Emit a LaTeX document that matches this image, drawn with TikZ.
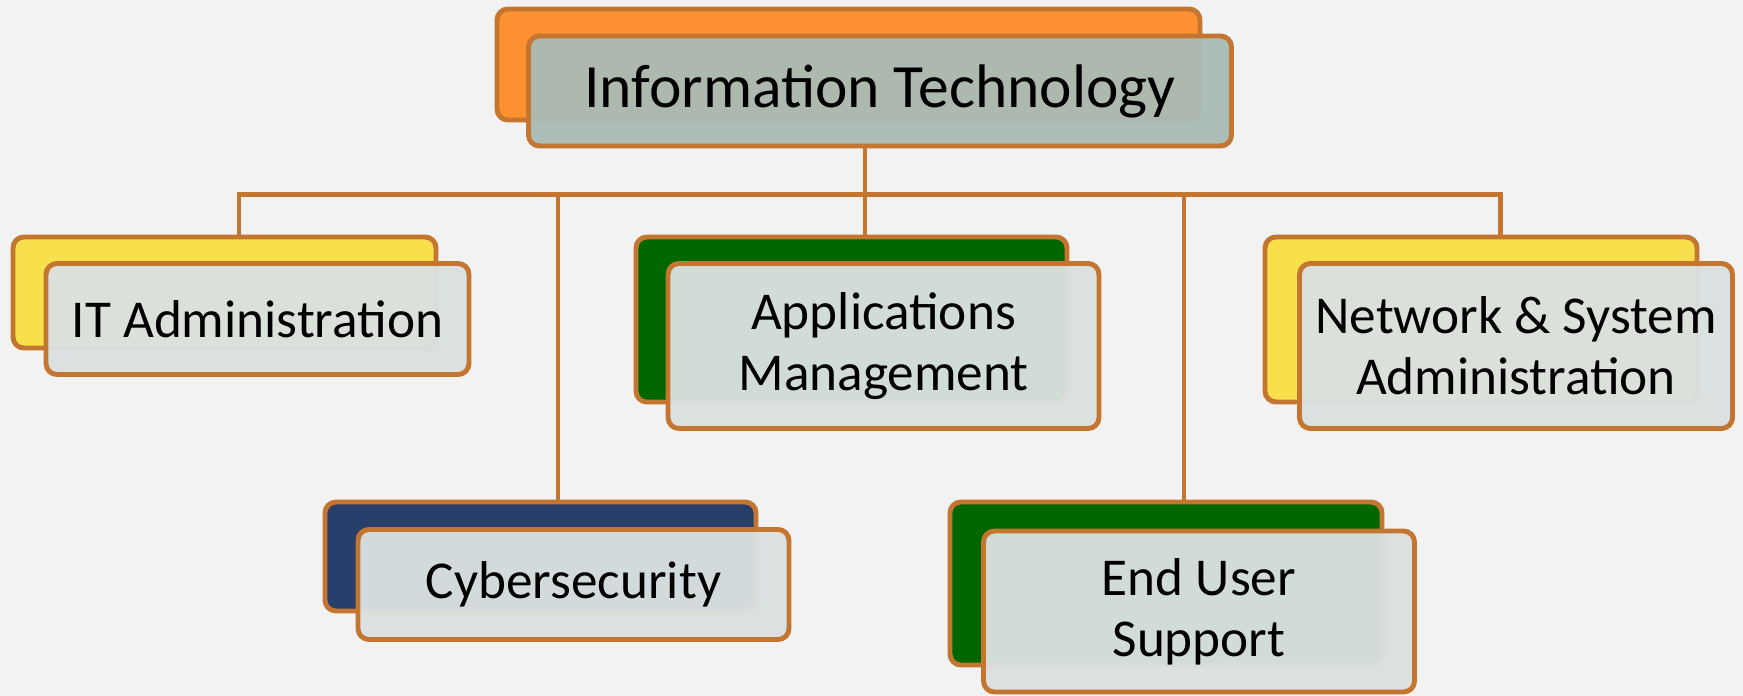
\documentclass[tikz,border=0pt]{standalone}
\usepackage{fontspec}
\setmainfont{Carlito}
\definecolor{bgGray}{RGB}{242,242,242}
\definecolor{lineBrown}{RGB}{196,118,48}
\definecolor{topOrange}{RGB}{253,144,48}
\definecolor{deptYellow}{RGB}{247,224,75}
\definecolor{deptNavy}{RGB}{40,63,107}
\definecolor{deptGreen}{RGB}{0,102,0}
\definecolor{topFace}{RGB}{170,187,181}
\definecolor{deptFace}{RGB}{218,225,224}
\tikzset{
  backbox/.style={draw=lineBrown, line width=2.8pt, rounded corners=0.22cm, inner sep=0pt},
  frontbox/.style={backbox, fill=deptFace, fill opacity=0.96, text opacity=1, align=center,
    font=\fontsize{30.3}{34.5}\selectfont},
  link/.style={draw=lineBrown, line width=2.4pt},
}

\begin{document}
\begin{tikzpicture}
\useasboundingbox [fill=bgGray] (0,0) rectangle (34.86,-13.92);

% Top box
\node [backbox, fill=topOrange, minimum width=14.06cm, minimum height=2.22cm] (itB) at (16.97,-1.29) {};
\node [frontbox, fill=topFace, minimum width=14.06cm, minimum height=2.2cm,
  font=\fontsize{35}{40}\selectfont] (itF) at ([shift={(0.63,-0.53)}]itB) {Information Technology};

% Departments, first row
\node [backbox, fill=deptYellow, minimum width=8.46cm, minimum height=2.22cm] (adminB) at (4.49,-5.85) {};
\node [frontbox, minimum width=8.46cm, minimum height=2.22cm] (adminF) at ([shift={(0.66,-0.53)}]adminB) {IT Administration};

\node [backbox, fill=deptGreen, minimum width=8.62cm, minimum height=3.3cm] (appsB) at (17.03,-6.39) {};
\node [frontbox, minimum width=8.62cm, minimum height=3.3cm] (appsF) at ([shift={(0.64,-0.53)}]appsB) {Applications\\Management};

\node [backbox, fill=deptYellow, minimum width=8.64cm, minimum height=3.3cm] (netB) at (29.62,-6.39) {};
\node [frontbox, minimum width=8.66cm, minimum height=3.3cm] (netF) at ([shift={(0.7,-0.53)}]netB) {Network \& System\\Administration};

% Departments, second row
\node [backbox, fill=deptNavy, minimum width=8.62cm, minimum height=2.18cm] (cyberB) at (10.81,-11.13) {};
\node [frontbox, minimum width=8.62cm, minimum height=2.2cm] (cyberF) at ([shift={(0.66,-0.56)}]cyberB) {Cybersecurity};

\node [backbox, fill=deptGreen, minimum width=8.64cm, minimum height=3.26cm] (userB) at (23.32,-11.67) {};
\node [frontbox, minimum width=8.62cm, minimum height=3.22cm] (userF) at ([shift={(0.66,-0.56)}]userB) {End User\\Support};

% Connectors
\coordinate (bus) at (17.3,-3.89);
\draw [link] (bus |- itF.south) -- (bus);
\draw [link] ([xshift=0.29cm]adminB.north) |- (bus);
\draw [link] ([xshift=0.35cm]cyberB.north) |- (bus);
\draw [link] ([xshift=0.27cm]appsB.north) -- ([xshift=0.27cm]appsB.north |- bus);
\draw [link] ([xshift=0.36cm]userB.north) |- (bus);
\draw [link] ([xshift=0.39cm]netB.north) |- (bus);
\end{tikzpicture}
\end{document}
